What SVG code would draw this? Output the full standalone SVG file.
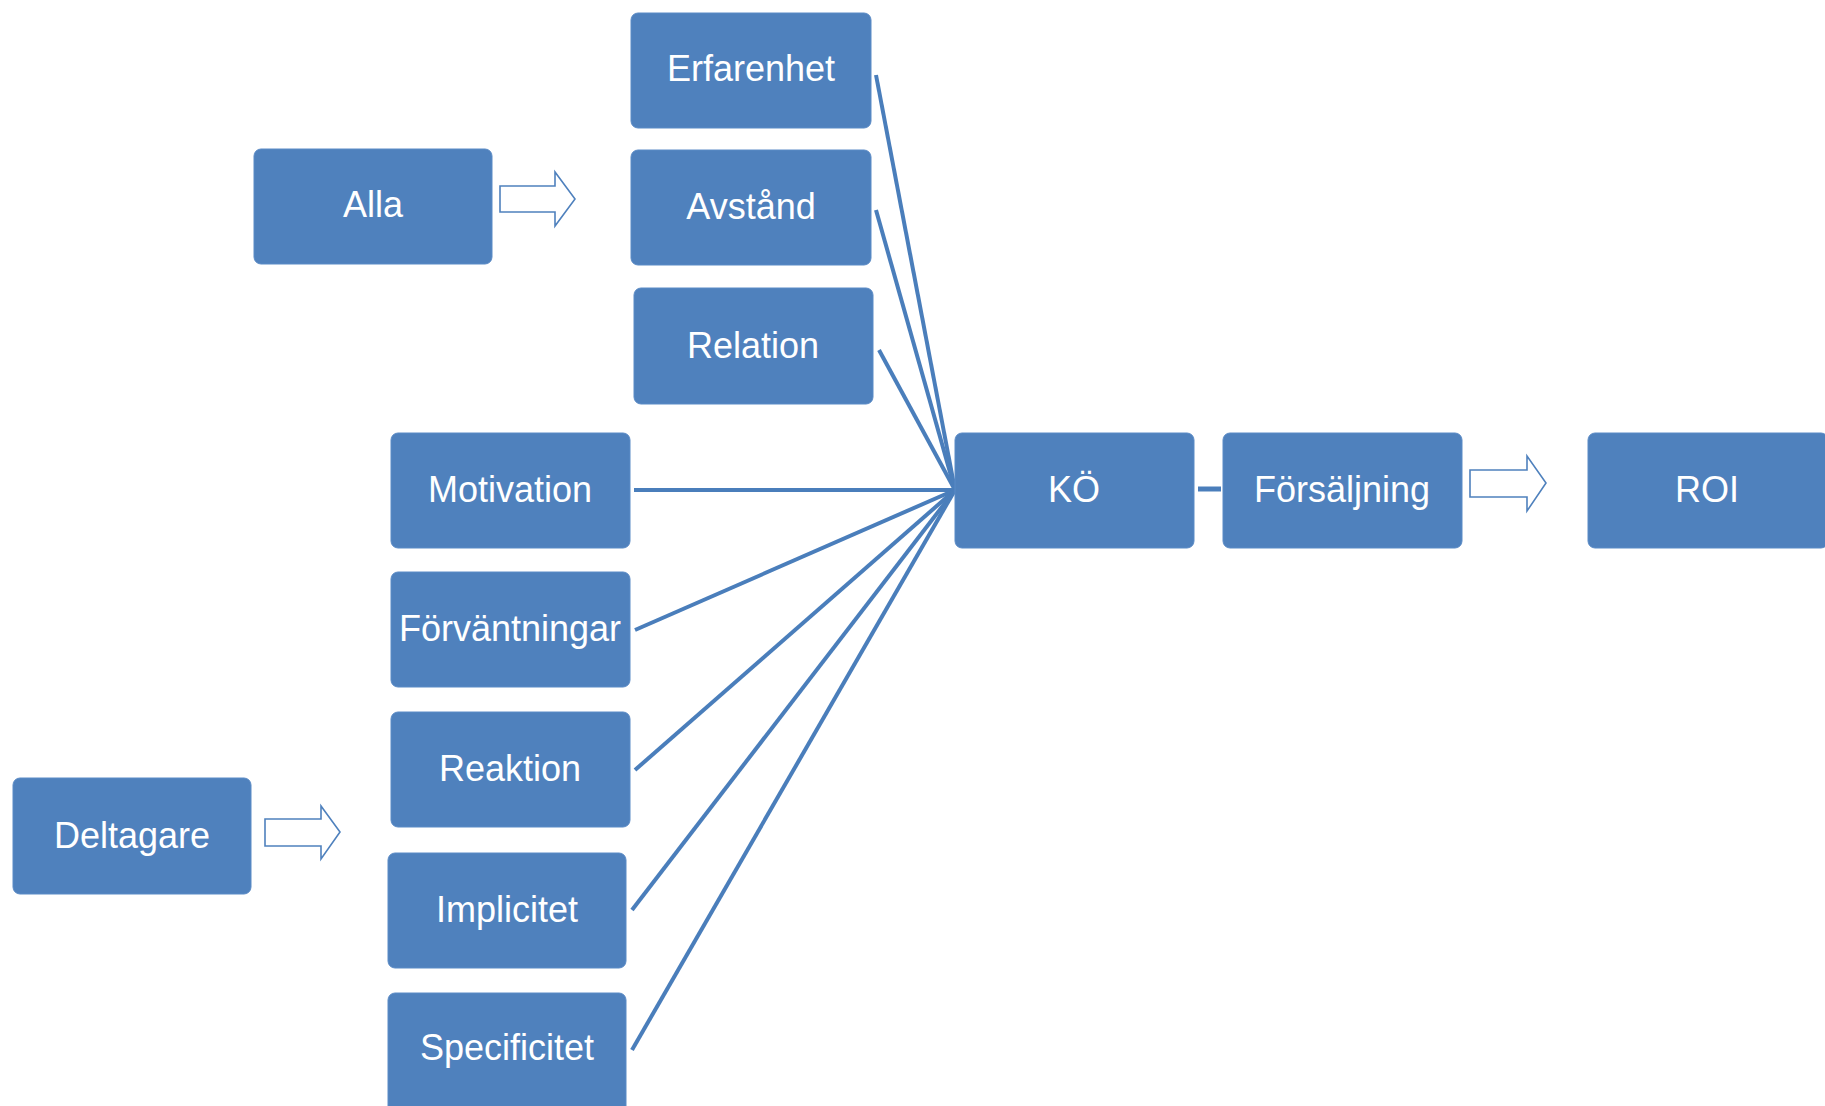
<svg xmlns="http://www.w3.org/2000/svg" width="1825" height="1106" viewBox="0 0 1825 1106">
<style>
.box{fill:#4F81BD;stroke:#5B8BC6;stroke-width:1}
.lbl{font-family:"Liberation Sans",Arial,sans-serif;font-size:36px;fill:#FFFFFF;text-anchor:middle}
.con{stroke:#4A7EBB;stroke-width:4;fill:none;stroke-linecap:butt}
.harrow{fill:#FFFFFF;stroke:#4F81BD;stroke-width:1.6;stroke-linejoin:miter}
</style>
<rect width="1825" height="1106" fill="#FFFFFF"/>
<g id="connectors">
<line class="con" x1="876" y1="75" x2="955" y2="490"/>
<line class="con" x1="876" y1="210" x2="955" y2="490"/>
<line class="con" x1="879" y1="350" x2="955" y2="490"/>
<line class="con" x1="634" y1="490" x2="955" y2="490"/>
<line class="con" x1="635" y1="630" x2="955" y2="490"/>
<line class="con" x1="635" y1="770" x2="955" y2="490"/>
<line class="con" x1="632" y1="910" x2="955" y2="490"/>
<line class="con" x1="632" y1="1050" x2="955" y2="490"/>
<line x1="1198" y1="489" x2="1221" y2="489" stroke="#4A7EBB" stroke-width="5"/>
<polygon class="harrow" points="500,186 555,186 555,172 575,199 555,226 555,212 500,212"/>
<polygon class="harrow" points="265,819 321,819 321,806 340,832 321,859 321,846 265,846"/>
<polygon class="harrow" points="1470,470 1527,470 1527,456 1546,483 1527,511 1527,497 1470,497"/>
</g>
<g id="erfarenhet"><rect class="box" x="631" y="13" width="240" height="115" rx="7"/><text class="lbl" x="751" y="81">Erfarenhet</text></g>
<g id="alla"><rect class="box" x="254" y="149" width="238" height="115" rx="7"/><text class="lbl" x="373" y="217">Alla</text></g>
<g id="avstand"><rect class="box" x="631" y="150" width="240" height="115" rx="7"/><text class="lbl" x="751" y="219">Avstånd</text></g>
<g id="relation"><rect class="box" x="634" y="288" width="239" height="116" rx="7"/><text class="lbl" x="753" y="358">Relation</text></g>
<g id="motivation"><rect class="box" x="391" y="433" width="239" height="115" rx="7"/><text class="lbl" x="510" y="502">Motivation</text></g>
<g id="forvantningar"><rect class="box" x="391" y="572" width="239" height="115" rx="7"/><text class="lbl" x="510" y="641">Förväntningar</text></g>
<g id="reaktion"><rect class="box" x="391" y="712" width="239" height="115" rx="7"/><text class="lbl" x="510" y="781">Reaktion</text></g>
<g id="implicitet"><rect class="box" x="388" y="853" width="238" height="115" rx="7"/><text class="lbl" x="507" y="922">Implicitet</text></g>
<g id="specificitet"><rect class="box" x="388" y="993" width="238" height="120" rx="7"/><text class="lbl" x="507" y="1060">Specificitet</text></g>
<g id="deltagare"><rect class="box" x="13" y="778" width="238" height="116" rx="7"/><text class="lbl" x="132" y="848">Deltagare</text></g>
<g id="ko"><rect class="box" x="955" y="433" width="239" height="115" rx="7"/><text class="lbl" x="1074" y="502">KÖ</text></g>
<g id="forsaljning"><rect class="box" x="1223" y="433" width="239" height="115" rx="7"/><text class="lbl" x="1342" y="502">Försäljning</text></g>
<g id="roi"><rect class="box" x="1588" y="433" width="240" height="115" rx="7"/><text class="lbl" x="1707" y="502">ROI</text></g>
</svg>
